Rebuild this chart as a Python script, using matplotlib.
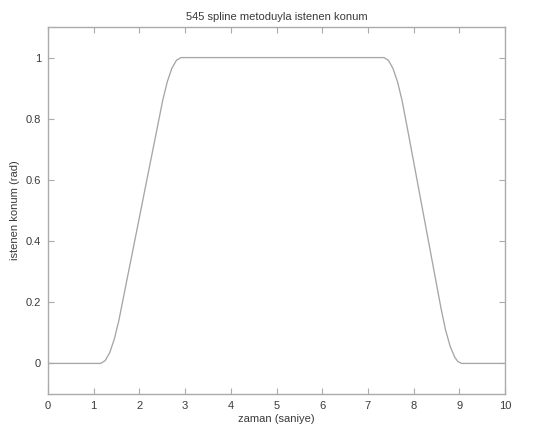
import matplotlib
matplotlib.use("Agg")
import matplotlib.pyplot as plt

# Position profile (time in s, position in rad)
zaman = [0.0, 1.15, 1.25, 1.35, 1.45, 1.55, 1.70, 1.85, 2.03, 2.20, 2.35, 2.51,
         2.61, 2.71, 2.81, 2.91,
         7.35, 7.45, 7.55, 7.65, 7.75, 7.90, 8.05, 8.20, 8.35, 8.50, 8.60,
         8.70, 8.80, 8.90, 8.97, 9.05, 10.0]
konum = [0.0, 0.0, 0.009, 0.035, 0.079, 0.140, 0.253, 0.365, 0.500, 0.628, 0.740, 0.860,
         0.921, 0.965, 0.991, 1.0,
         1.0, 0.991, 0.964, 0.920, 0.858, 0.740, 0.620, 0.500, 0.380, 0.260, 0.180,
         0.109, 0.056, 0.020, 0.006, 0.0, 0.0]

x_ticks = list(range(0, 11))
y_ticks = [0, 0.2, 0.4, 0.6, 0.8, 1]
y_labels = ["0", "0.2", "0.4", "0.6", "0.8", "1"]

plt.rcParams["font.family"] = ["Liberation Sans", "DejaVu Sans"]
text_col = "#3a3a3a"
frame_col = "#ababab"

fig = plt.figure(figsize=(5.37, 4.29), dpi=100)
fig.patch.set_facecolor("white")
ax = fig.add_axes([48 / 537, 1 - 394 / 429, (505 - 48) / 537, (394 - 27) / 429])

ax.plot(zaman, konum, color="#a6a6a6", linewidth=0.95,
        solid_joinstyle="round", solid_capstyle="round")

ax.set_xlim(0, 10)
ax.set_ylim(-0.1, 1.1)
ax.set_xticks(x_ticks)
ax.set_yticks(y_ticks)
ax.set_yticklabels(y_labels)

for s in ax.spines.values():
    s.set_color(frame_col)
    s.set_linewidth(1.0)
ax.tick_params(direction="in", length=4, width=0.8, color=frame_col,
               labelcolor=text_col, labelsize=8, top=True, right=True, pad=5)

ax.set_title("545 spline metoduyla istenen konum", fontsize=8, color=text_col, pad=5)
ax.set_xlabel("zaman (saniye)", fontsize=8, color=text_col, labelpad=2)
ax.set_ylabel("istenen konum (rad)", fontsize=8, color=text_col)
ax.yaxis.set_label_coords(-0.062, 0.5)

fig.savefig("out.png", dpi=100, facecolor="white")
